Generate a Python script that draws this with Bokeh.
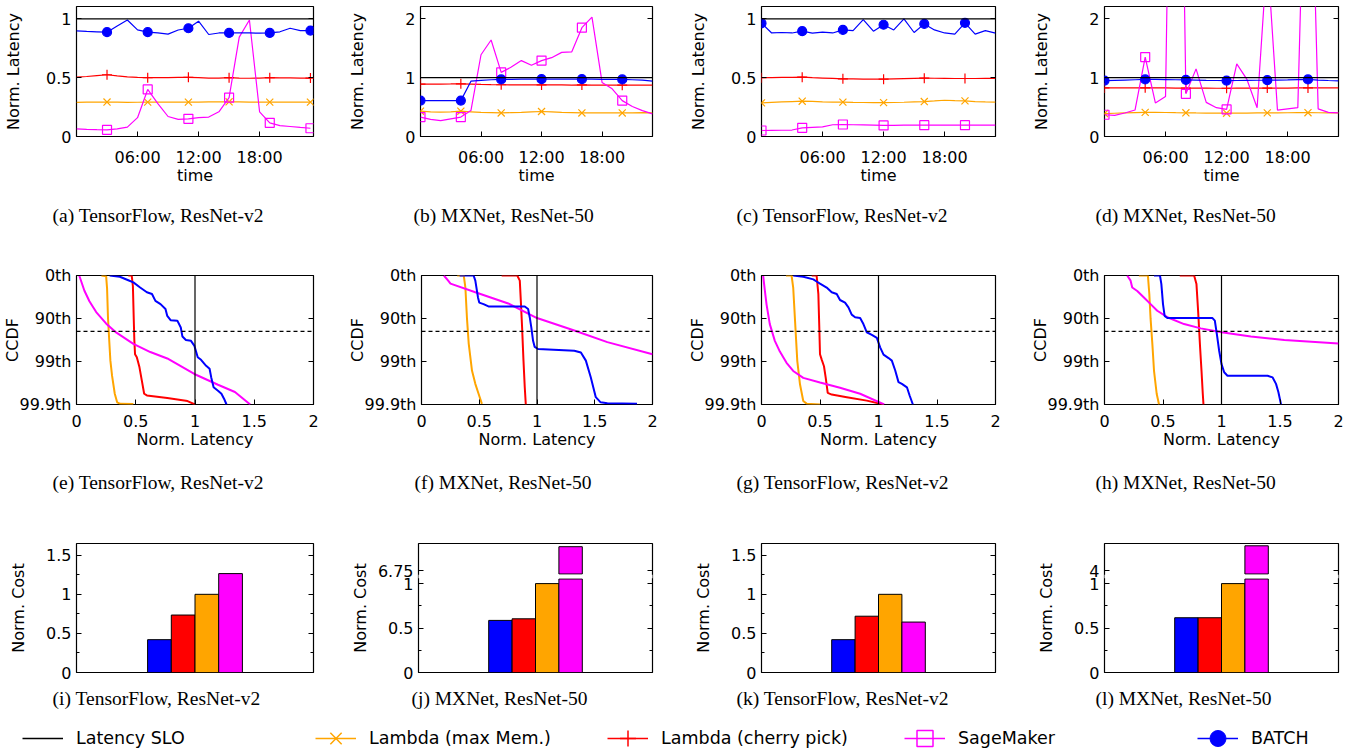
import math
from bokeh.plotting import figure
from bokeh.models import (Range1d, FixedTicker, LinearAxis, Span, BoxAnnotation,
                          Legend, LegendItem)
from bokeh.layouts import column, row
from bokeh.embed import file_html
from bokeh.resources import INLINE

# ------------------------------------------------------------------ data
HOURS = list(range(24))
HOUR_TICKS = [6, 12, 18]
HOUR_LABELS = ["06:00", "12:00", "18:00"]
SLO = 1.0          # normalised latency SLO
TAIL_PCT = 95.0    # dashed percentile line in the CCDF panels

# (a) TensorFlow, ResNet-v2 : normalised latency per hour
A_BATCH = [0.897, 0.893, 0.890, 0.887, 0.940, 0.990, 0.906, 0.887, 0.880, 0.870, 0.905, 0.920,
           0.980, 0.867, 0.880, 0.880, 0.880, 0.880, 0.878, 0.880, 0.890, 0.920, 0.900, 0.900]
A_CHERRY = [0.505, 0.510, 0.518, 0.525, 0.515, 0.507, 0.503, 0.500, 0.500, 0.500, 0.502, 0.503,
            0.500, 0.497, 0.497, 0.500, 0.497, 0.495, 0.497, 0.500, 0.498, 0.498, 0.497, 0.497]
A_MAX = [0.290, 0.292, 0.293, 0.293, 0.292, 0.290, 0.291, 0.292, 0.292, 0.293, 0.292, 0.292,
         0.293, 0.294, 0.295, 0.295, 0.294, 0.293, 0.292, 0.292, 0.292, 0.292, 0.292, 0.292]
A_SM = [0.065, 0.060, 0.058, 0.057, 0.065, 0.080, 0.160, 0.400, 0.280, 0.170, 0.145, 0.150,
        0.160, 0.165, 0.210, 0.330, 0.845, 0.990, 0.210, 0.116, 0.093, 0.085, 0.077, 0.070]

# (b) MXNet, ResNet-50
B_BATCH = [0.610, 0.610, 0.610, 0.610, 0.610, 0.940, 0.955, 0.965, 0.970, 0.972, 0.975, 0.975,
           0.975, 0.975, 0.975, 0.975, 0.975, 0.975, 0.972, 0.970, 0.970, 0.965, 0.960, 0.940]
B_CHERRY = [0.890, 0.890, 0.892, 0.893, 0.895, 0.890, 0.885, 0.882, 0.880, 0.878, 0.877, 0.877,
            0.876, 0.876, 0.876, 0.875, 0.876, 0.875, 0.874, 0.873, 0.872, 0.873, 0.873, 0.872]
B_MAX = [0.430, 0.420, 0.415, 0.420, 0.430, 0.420, 0.410, 0.405, 0.400, 0.405, 0.410, 0.420,
         0.425, 0.420, 0.410, 0.405, 0.400, 0.400, 0.400, 0.400, 0.400, 0.400, 0.405, 0.400]
B_SM = [0.330, 0.290, 0.270, 0.300, 0.330, 0.440, 1.390, 1.640, 1.090, 1.180, 1.290, 1.210,
        1.290, 1.340, 1.430, 1.440, 1.850, 2.030, 0.920, 0.810, 0.610, 0.510, 0.440, 0.385]

# (c) TensorFlow, ResNet-v2
C_BATCH = [0.963, 0.880, 0.884, 0.880, 0.895, 0.878, 0.887, 0.880, 0.906, 0.900, 0.994, 0.895,
           0.950, 0.906, 1.000, 0.884, 0.957, 0.906, 0.880, 0.870, 0.966, 0.870, 0.900, 0.878]
C_CHERRY = [0.500, 0.500, 0.502, 0.503, 0.504, 0.500, 0.497, 0.494, 0.490, 0.489, 0.488, 0.487,
            0.487, 0.490, 0.492, 0.494, 0.496, 0.495, 0.494, 0.493, 0.493, 0.493, 0.494, 0.494]
C_MAX = [0.286, 0.290, 0.294, 0.297, 0.300, 0.298, 0.295, 0.293, 0.292, 0.290, 0.289, 0.288,
         0.288, 0.289, 0.291, 0.294, 0.297, 0.302, 0.308, 0.305, 0.303, 0.297, 0.294, 0.293]
C_SM = [0.051, 0.052, 0.053, 0.055, 0.074, 0.078, 0.082, 0.100, 0.102, 0.100, 0.098, 0.096,
        0.094, 0.095, 0.096, 0.096, 0.096, 0.096, 0.096, 0.096, 0.096, 0.096, 0.096, 0.096]

# (d) MXNet, ResNet-50
D_BATCH = [0.950, 0.955, 0.960, 0.965, 0.970, 0.970, 0.968, 0.965, 0.963, 0.960, 0.955, 0.952,
           0.950, 0.952, 0.955, 0.956, 0.957, 0.960, 0.963, 0.967, 0.970, 0.960, 0.952, 0.946]
D_CHERRY = [0.825, 0.825, 0.826, 0.826, 0.827, 0.826, 0.825, 0.824, 0.823, 0.822, 0.821, 0.820,
            0.820, 0.821, 0.822, 0.823, 0.823, 0.824, 0.824, 0.825, 0.825, 0.825, 0.825, 0.825]
D_MAX = [0.390, 0.395, 0.400, 0.405, 0.410, 0.410, 0.408, 0.405, 0.403, 0.400, 0.398, 0.397,
         0.396, 0.397, 0.398, 0.400, 0.402, 0.403, 0.404, 0.405, 0.405, 0.404, 0.402, 0.400]
D_SM = [0.370, 0.360, 0.400, 0.450, 1.350, 0.570, 0.680, 12.00, 0.725, 1.150, 0.580, 0.490,
        0.460, 1.235, 0.970, 0.490, 3.100, 0.450, 0.470, 0.490, 7.000, 0.470, 0.410, 0.400]

# CCDF panels: latency vs. "nines" (0 = 0th, 1 = 90th, 2 = 99th, 3 = 99.9th percentile)
CCDF_TICKS = [0, 1, 2, 3]
CCDF_LABELS = ["0th", "90th", "99th", "99.9th"]
LAT_TICKS = [0, 0.5, 1, 1.5, 2]
LAT_LABELS = ["0", "0.5", "1", "1.5", "2"]

E_MAX_LAT = [0.21, 0.25, 0.258, 0.266, 0.276, 0.286, 0.30, 0.323, 0.343, 0.37, 0.48]
E_MAX_NINES = [0.0, 0.015, 0.3, 1.0, 1.5, 1.98, 2.33, 2.75, 2.95, 2.985, 2.99]
E_CHERRY_LAT = [0.437, 0.466, 0.476, 0.483, 0.488, 0.494, 0.509, 0.531, 0.551, 0.571, 0.594, 0.766, 0.937, 1.0]
E_CHERRY_NINES = [0.0, 0.0, 0.25, 1.0, 1.5, 1.83, 1.9, 2.13, 2.44, 2.75, 2.79, 2.85, 2.92, 3.0]
E_SM_LAT = [0.023, 0.066, 0.109, 0.166, 0.251, 0.337, 0.48, 0.623, 0.766, 0.994, 1.194, 1.337, 1.466]
E_SM_NINES = [0.0, 0.35, 0.6, 0.85, 1.12, 1.33, 1.59, 1.78, 1.93, 2.29, 2.54, 2.71, 3.0]
E_BATCH_LAT = [0.28, 0.366, 0.437, 0.48, 0.537, 0.594, 0.637, 0.666, 0.709, 0.751, 0.766, 0.794, 0.851, 0.88,
               0.894, 0.923, 0.966, 0.994, 1.023, 1.051, 1.094, 1.123, 1.137, 1.157, 1.194, 1.223, 1.246, 1.266]
E_BATCH_NINES = [0.0, 0.03, 0.11, 0.16, 0.28, 0.39, 0.43, 0.59, 0.665, 0.78, 0.94, 1.04, 1.05, 1.21,
                 1.42, 1.5, 1.52, 1.63, 1.9, 1.96, 2.1, 2.17, 2.37, 2.6, 2.68, 2.75, 2.87, 3.0]

F_MAX_LAT = [0.309, 0.366, 0.38, 0.394, 0.409, 0.437, 0.466, 0.494, 0.523]
F_MAX_NINES = [0.0, 0.0, 0.28, 1.01, 1.59, 2.21, 2.52, 2.75, 2.985]
F_CHERRY_LAT = [0.694, 0.829, 0.851, 0.86, 0.871, 0.883, 0.894, 0.903]
F_CHERRY_NINES = [0.0, 0.0, 0.12, 0.59, 1.21, 1.98, 2.6, 3.0]
F_SM_LAT = [0.194, 0.231, 0.251, 0.466, 0.751, 1.0, 1.323, 1.609, 2.0]
F_SM_NINES = [0.0, 0.12, 0.19, 0.39, 0.65, 0.99, 1.28, 1.55, 1.83]
F_BATCH_LAT = [0.33, 0.451, 0.466, 0.489, 0.5, 0.537, 0.58, 0.894, 0.923, 0.937, 0.951, 0.966, 0.98, 1.009,
               1.323, 1.38, 1.423, 1.466, 1.509, 1.551, 1.609, 1.866]
F_BATCH_NINES = [0.0, 0.0, 0.12, 0.51, 0.63, 0.665, 0.72, 0.72, 0.78, 0.97, 1.21, 1.52, 1.66, 1.71,
                 1.75, 1.79, 1.98, 2.37, 2.83, 2.95, 2.97, 2.985]

G_MAX_LAT = [0.209, 0.257, 0.271, 0.286, 0.306, 0.329, 0.357, 0.386, 0.5]
G_MAX_NINES = [0.0, 0.0, 0.28, 1.02, 1.99, 2.53, 2.92, 2.98, 3.0]
G_CHERRY_LAT = [0.429, 0.471, 0.486, 0.494, 0.5, 0.514, 0.534, 0.549, 0.566, 0.6, 0.729, 0.9, 1.043]
G_CHERRY_NINES = [0.0, 0.0, 0.435, 1.21, 1.83, 1.95, 2.11, 2.38, 2.73, 2.77, 2.83, 2.91, 3.0]
G_SM_LAT = [0.014, 0.029, 0.043, 0.071, 0.114, 0.157, 0.214, 0.271, 0.357, 0.5, 0.671, 0.843, 1.049]
G_SM_NINES = [0.0, 0.36, 0.67, 1.13, 1.52, 1.77, 2.03, 2.22, 2.38, 2.49, 2.61, 2.75, 3.0]
G_BATCH_LAT = [0.271, 0.357, 0.443, 0.471, 0.5, 0.557, 0.6, 0.643, 0.671, 0.714, 0.743, 0.771, 0.8, 0.843,
               0.871, 0.9, 0.943, 0.986, 1.014, 1.043, 1.086, 1.114, 1.143, 1.171, 1.2, 1.243, 1.266, 1.294]
G_BATCH_NINES = [0.0, 0.03, 0.09, 0.14, 0.19, 0.28, 0.39, 0.43, 0.57, 0.63, 0.74, 0.91, 0.97, 0.99,
                 1.13, 1.32, 1.38, 1.45, 1.67, 1.84, 1.92, 1.98, 2.21, 2.48, 2.52, 2.6, 2.79, 3.0]

H_MAX_LAT = [0.294, 0.371, 0.383, 0.394, 0.409, 0.423, 0.446, 0.466]
H_MAX_NINES = [0.0, 0.0, 0.43, 1.01, 1.59, 2.21, 2.75, 3.0]
H_CHERRY_LAT = [0.643, 0.766, 0.786, 0.8, 0.817, 0.829, 0.84, 0.846]
H_CHERRY_NINES = [0.0, 0.0, 0.2, 0.82, 1.67, 2.21, 2.75, 3.0]
H_SM_LAT = [0.194, 0.223, 0.237, 0.28, 0.337, 0.394, 0.451, 0.537, 0.68, 0.823, 1.0, 1.251, 1.537, 2.0]
H_SM_NINES = [0.0, 0.12, 0.28, 0.36, 0.51, 0.665, 0.82, 0.97, 1.13, 1.23, 1.32, 1.42, 1.5, 1.58]
H_BATCH_LAT = [0.423, 0.474, 0.486, 0.5, 0.514, 0.537, 0.923, 0.943, 0.96, 0.98, 1.0, 1.023, 1.051,
               1.394, 1.437, 1.466, 1.486, 1.509]
H_BATCH_NINES = [0.0, 0.0, 0.2, 0.665, 0.94, 0.99, 0.99, 1.05, 1.36, 1.75, 2.06, 2.25, 2.33,
                 2.33, 2.37, 2.52, 2.71, 3.0]

# Cost panels (order: BATCH, Lambda cherry pick, Lambda max mem, SageMaker)
SYSTEMS = ["BATCH", "Lambda (cherry pick)", "Lambda (max Mem.)", "SageMaker"]
I_COST = [0.42, 0.735, 1.0, 1.265]
J_COST = [0.586, 0.604, 1.0, 7.02]
K_COST = [0.42, 0.72, 1.0, 0.645]
L_COST = [0.616, 0.616, 1.0, 4.28]
J_UPPER_TICK = 6.75
L_UPPER_TICK = 4.0

CAPTIONS = ["(a) TensorFlow, ResNet-v2", "(b) MXNet, ResNet-50",
            "(c) TensorFlow, ResNet-v2", "(d) MXNet, ResNet-50",
            "(e) TensorFlow, ResNet-v2", "(f) MXNet, ResNet-50",
            "(g) TensorFlow, ResNet-v2", "(h) MXNet, ResNet-50",
            "(i) TensorFlow, ResNet-v2", "(j) MXNet, ResNet-50",
            "(k) TensorFlow, ResNet-v2", "(l) MXNet, ResNet-50"]
LEGEND_LABELS = ["Latency SLO", "Lambda (max Mem.)", "Lambda (cherry pick)", "SageMaker", "BATCH"]

# ------------------------------------------------------------------ style / geometry
FONT = "DejaVu Sans"
SERIF = "Liberation Serif"
CLR_MAX, CLR_CHERRY, CLR_SM, CLR_BATCH = "#ffa500", "#ff0000", "#ff00ff", "#0000ff"

COL_W = [345, 340, 340, 330]
COL_L = [76, 73, 76, 79]
FRAME_W = [237, 234, 234, 234]
ROW_H = [250, 273, 204]
ROW_T = [6, 25, 20]
FRAME_H = [130, 129, 129]
CAP_OFF = [-24, -7, -25, -9]
CAP_STANDOFF = [34, 40, 31]
LEG_H = 21
LEG_GLYPH = 40

BREAK_LO = 1.052     # top of the lower segment of the broken cost axis
BREAK_GAP = 0.056    # visual gap of the broken axis
BAR_START = 3.5
NAN = float("nan")


def base_fig(c, r, xr, yr, caption, has_x=True):
    p = figure(width=COL_W[c], height=ROW_H[r], x_range=xr, y_range=yr,
               output_backend="svg", toolbar_location=None,
               title=caption, title_location="below",
               x_axis_location="below" if has_x else None, y_axis_location="left",
               min_border_left=COL_L[c], min_border_right=COL_W[c] - COL_L[c] - FRAME_W[c],
               min_border_top=ROW_T[r], min_border_bottom=ROW_H[r] - ROW_T[r] - FRAME_H[r])
    p.grid.visible = False
    p.outline_line_color = "black"
    p.outline_line_width = 1.2
    t = p.title
    t.align = "left"
    t.offset = CAP_OFF[c]
    t.vertical_align = "top"
    t.standoff = CAP_STANDOFF[r]
    t.text_font = SERIF
    t.text_font_size = "19.5px"
    t.text_font_style = "normal"
    t.text_color = "black"
    return p


def style_axis(ax, ticks, labels, minor=None, title=None, title_standoff=0, tick_standoff=5):
    ax.ticker = FixedTicker(ticks=ticks, minor_ticks=minor or [])
    ax.major_label_overrides = {t: l for t, l in zip(ticks, labels)}
    ax.axis_line_color = None
    ax.major_tick_in = 5
    ax.major_tick_out = 0
    ax.minor_tick_in = 3
    ax.minor_tick_out = 0
    ax.major_tick_line_color = "black"
    ax.minor_tick_line_color = "black"
    ax.major_label_standoff = tick_standoff
    ax.major_label_text_font = FONT
    ax.major_label_text_font_size = "16px"
    ax.major_label_text_color = "black"
    if title:
        ax.axis_label = title
        ax.axis_label_text_font = FONT
        ax.axis_label_text_font_size = "16px"
        ax.axis_label_text_font_style = "normal"
        ax.axis_label_text_color = "black"
        ax.axis_label_standoff = title_standoff


def mirror_y(p, ticks, minor=None):
    ax = LinearAxis()
    style_axis(ax, ticks, [""] * len(ticks), minor, tick_standoff=0)
    p.add_layout(ax, "right")


def time_panel(c, batch, cherry, mx, sm, ymax, yticks, ylabels, xmax, mstart, ylab_so, caption):
    p = base_fig(c, 0, Range1d(0, xmax), Range1d(0, ymax), caption)
    style_axis(p.xaxis[0], HOUR_TICKS, HOUR_LABELS, title="time", title_standoff=-4, tick_standoff=11)
    style_axis(p.yaxis[0], yticks, ylabels, title="Norm. Latency", title_standoff=ylab_so)
    mirror_y(p, yticks)
    p.add_layout(Span(location=SLO, dimension="width", line_color="black", line_width=1.2))
    idx = list(range(mstart, len(HOURS), 4))
    for vals, color, marker, size, fill in [(mx, CLR_MAX, "x", 10, None),
                                            (cherry, CLR_CHERRY, "cross", 10, None),
                                            (sm, CLR_SM, "square", 9, None),
                                            (batch, CLR_BATCH, "circle", 9, CLR_BATCH)]:
        p.line(HOURS, vals, line_color=color, line_width=1.2)
        p.scatter([HOURS[i] for i in idx], [vals[i] for i in idx], marker=marker, size=size,
                  line_color=color, fill_color=fill, line_width=1.2)
    return p


def ccdf_panel(c, curves, ylab_so, caption):
    p = base_fig(c, 1, Range1d(0, 2), Range1d(3, 0), caption)
    style_axis(p.xaxis[0], LAT_TICKS, LAT_LABELS, title="Norm. Latency", title_standoff=0, tick_standoff=10)
    style_axis(p.yaxis[0], CCDF_TICKS, CCDF_LABELS, title="CCDF", title_standoff=ylab_so)
    mirror_y(p, CCDF_TICKS)
    for lat, nines, color in curves:
        p.line(lat, nines, line_color=color, line_width=2)
    p.add_layout(Span(location=SLO, dimension="height", line_color="black", line_width=1.2))
    p.add_layout(Span(location=-math.log10(1 - TAIL_PCT / 100.0), dimension="width",
                      line_color="black", line_width=1.2, line_dash="4 3"))
    return p


def bar_panel(c, costs, ylab_so, caption, upper_tick=None):
    colors = [CLR_BATCH, CLR_CHERRY, CLR_MAX, CLR_SM]
    xs = [BAR_START + i for i in range(len(costs))]
    if upper_tick is None:
        p = base_fig(c, 2, Range1d(0, 10), Range1d(0, 1.65), caption, has_x=False)
        ticks, labels, minor = [0, 0.5, 1, 1.5], ["0", "0.5", "1", "1.5"], [0.25, 0.75, 1.25]
        p.vbar(x=xs, top=costs, bottom=0, width=1, fill_color=colors, line_color="black", line_width=1)
    else:
        upper_min = upper_tick - 0.037

        def brk(v):
            return v if v <= BREAK_LO else BREAK_LO + BREAK_GAP + (v - upper_min)

        p = base_fig(c, 2, Range1d(0, 10), Range1d(0, 1.451), caption, has_x=False)
        ticks = [0, 0.5, 1, round(brk(upper_tick), 6)]
        labels = ["0", "0.5", "1", ("%g" % upper_tick)]
        minor = [0.25, 0.75]
        p.vbar(x=xs, top=[min(v, BREAK_LO) for v in costs], bottom=0, width=1,
               fill_color=colors, line_color="black", line_width=1)
        hi = [i for i, v in enumerate(costs) if v > BREAK_LO]
        p.vbar(x=[xs[i] for i in hi], top=[brk(costs[i]) for i in hi], bottom=BREAK_LO + BREAK_GAP,
               width=1, fill_color=[colors[i] for i in hi], line_color="black", line_width=1)
        p.add_layout(BoxAnnotation(bottom=BREAK_LO + 0.009, top=BREAK_LO + BREAK_GAP - 0.009,
                                   left=-0.15, right=10.15, fill_color="white", fill_alpha=1.0,
                                   line_color=None, level="overlay"))
    style_axis(p.yaxis[0], ticks, labels, minor, title="Norm. Cost", title_standoff=ylab_so)
    mirror_y(p, ticks, minor)
    return p


row1 = [
    time_panel(0, A_BATCH, A_CHERRY, A_MAX, A_SM, 1.105, [0, 0.5, 1], ["0", "0.5", "1"], 23.3, 3, 20, CAPTIONS[0]),
    time_panel(1, B_BATCH, B_CHERRY, B_MAX, B_SM, 2.21, [0, 1, 2], ["0", "1", "2"], 23, 0, 35, CAPTIONS[1]),
    time_panel(2, C_BATCH, C_CHERRY, C_MAX, C_SM, 1.105, [0, 0.5, 1], ["0", "0.5", "1"], 23, 0, 20, CAPTIONS[2]),
    time_panel(3, D_BATCH, D_CHERRY, D_MAX, D_SM, 2.21, [0, 1, 2], ["0", "1", "2"], 23, 0, 35, CAPTIONS[3]),
]

row2 = [
    ccdf_panel(0, [(E_MAX_LAT, E_MAX_NINES, CLR_MAX), (E_CHERRY_LAT, E_CHERRY_NINES, CLR_CHERRY),
                   (E_SM_LAT, E_SM_NINES, CLR_SM), (E_BATCH_LAT, E_BATCH_NINES, CLR_BATCH)], -6, CAPTIONS[4]),
    ccdf_panel(1, [(F_MAX_LAT, F_MAX_NINES, CLR_MAX), (F_CHERRY_LAT, F_CHERRY_NINES, CLR_CHERRY),
                   (F_SM_LAT, F_SM_NINES, CLR_SM), (F_BATCH_LAT, F_BATCH_NINES, CLR_BATCH)], -6, CAPTIONS[5]),
    ccdf_panel(2, [(G_MAX_LAT, G_MAX_NINES, CLR_MAX), (G_CHERRY_LAT, G_CHERRY_NINES, CLR_CHERRY),
                   (G_SM_LAT, G_SM_NINES, CLR_SM), (G_BATCH_LAT, G_BATCH_NINES, CLR_BATCH)], -6, CAPTIONS[6]),
    ccdf_panel(3, [(H_MAX_LAT, H_MAX_NINES, CLR_MAX), (H_CHERRY_LAT, H_CHERRY_NINES, CLR_CHERRY),
                   (H_SM_LAT, H_SM_NINES, CLR_SM), (H_BATCH_LAT, H_BATCH_NINES, CLR_BATCH)], -6, CAPTIONS[7]),
]

row3 = [
    bar_panel(0, I_COST, 15, CAPTIONS[8]),
    bar_panel(1, J_COST, 5, CAPTIONS[9], upper_tick=J_UPPER_TICK),
    bar_panel(2, K_COST, 15, CAPTIONS[10]),
    bar_panel(3, L_COST, 15, CAPTIONS[11], upper_tick=L_UPPER_TICK),
]

# ------------------------------------------------------------------ legend strip
leg = figure(width=sum(COL_W), height=LEG_H, x_range=Range1d(0, 1), y_range=Range1d(0, 1),
             output_backend="svg", toolbar_location=None, min_border=0,
             x_axis_location=None, y_axis_location=None)
leg.grid.visible = False
leg.outline_line_color = None
r_slo = leg.line(x=[NAN], y=[NAN], line_color="black", line_width=1.3)
r_max = [leg.line(x=[NAN], y=[NAN], line_color=CLR_MAX, line_width=1.5),
         leg.scatter(x=[NAN], y=[NAN], marker="x", size=15, line_color=CLR_MAX, line_width=1.5)]
r_cherry = [leg.line(x=[NAN], y=[NAN], line_color=CLR_CHERRY, line_width=1.5),
            leg.scatter(x=[NAN], y=[NAN], marker="cross", size=15, line_color=CLR_CHERRY, line_width=1.5)]
r_sm = [leg.line(x=[NAN], y=[NAN], line_color=CLR_SM, line_width=1.5),
        leg.scatter(x=[NAN], y=[NAN], marker="square", size=15, line_color=CLR_SM, fill_color=None,
                    line_width=1.5)]
r_batch = [leg.line(x=[NAN], y=[NAN], line_color=CLR_BATCH, line_width=1.5),
           leg.scatter(x=[NAN], y=[NAN], marker="circle", size=15, line_color=CLR_BATCH, fill_color=CLR_BATCH)]
LEG_X = [22, 315, 607, 904, 1197]
for label, rends, lx in zip(LEGEND_LABELS, [[r_slo], r_max, r_cherry, r_sm, r_batch], LEG_X):
    lg = Legend(items=[LegendItem(label=label, renderers=rends)], location=(lx, (LEG_H - LEG_GLYPH) / 2.0),
                orientation="horizontal", padding=0, margin=0, spacing=0,
                glyph_width=41, glyph_height=LEG_GLYPH, label_standoff=13, label_height=LEG_GLYPH,
                label_text_font=FONT, label_text_font_size="17.5px", label_text_color="black",
                border_line_color=None, background_fill_alpha=0)
    leg.add_layout(lg)

layout = column(row(*row1), row(*row2), row(*row3), leg)
open("out.html", "w").write(file_html(layout, INLINE))
